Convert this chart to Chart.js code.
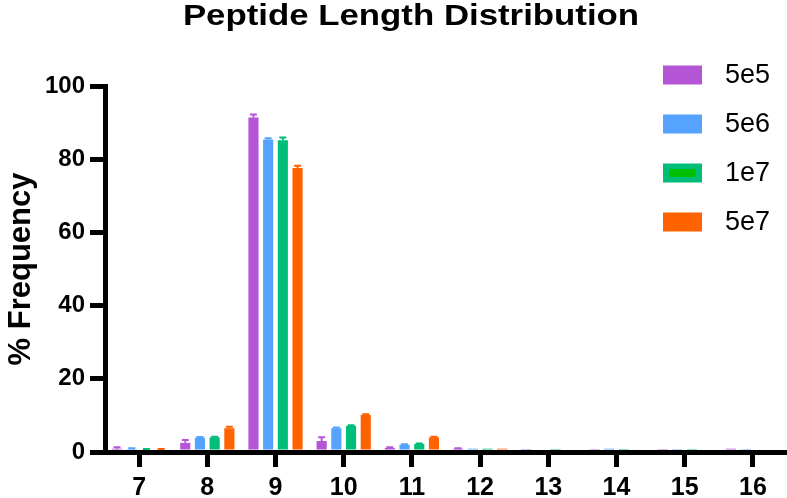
<!DOCTYPE html>
<html><head><meta charset="utf-8">
<script src="https://cdn.jsdelivr.net/npm/chart.js@4/dist/chart.umd.min.js"></script>
<style>html,body{margin:0;padding:0;background:#fff;} #wrap{width:787px;height:498px;}</style>
</head><body><div id="wrap"><canvas id="c" width="787" height="498"></canvas></div>
<script>
const chartTitle = 'Peptide Length Distribution';
const yAxisTitle = '% Frequency';
const categories = ['7','8','9','10','11','12','13','14','15','16'];
const seriesNames = ['5e5','5e6','1e7','5e7'];
const values5e5 = [0.9, 2.5, 91.4, 3.0, 1.1, 0.9, 0.8, 0.8, 0.8, 0.9];
const values5e6 = [0.8, 3.9, 85.4, 6.5, 2.0, 0.9, 0.0, 0.9, 0.8, 0.8];
const values1e7 = [0.7, 4.0, 85.2, 7.1, 2.2, 0.9, 0.8, 0.8, 0.8, 0.0];
const values5e7 = [0.7, 6.5, 77.6, 10.1, 4.0, 0.9, 0.0, 0.7, 0.0, 0.0];
const errors5e5 = [0.4, 0.8, 0.8, 1.0, 0.2, 0.1, 0, 0, 0, 0];
const errors5e6 = [0.2, 0.2, 0.3, 0.2, 0.1, 0, 0, 0, 0, 0];
const errors1e7 = [0.1, 0.2, 0.7, 0.2, 0.1, 0, 0, 0, 0, 0];
const errors5e7 = [0.1, 0.4, 0.6, 0.2, 0.2, 0, 0, 0, 0, 0];
const yTicks = [0, 20, 40, 60, 80, 100];

const colors = ['#B455D6', '#55A3FF', '#00BE78', '#FF6200'];
const legendInner = [null, null, '#00C000', null];
const FONT = "'Liberation Sans', Arial, Helvetica, sans-serif";

const seriesValues = [values5e5, values5e6, values1e7, values5e7];
const seriesErrors = [errors5e5, errors5e6, errors1e7, errors5e7];

const datasets = seriesNames.map((name, i) => ({
  label: name,
  data: seriesValues[i],
  errors: seriesErrors[i],
  backgroundColor: colors[i],
  borderWidth: 0,
  legendInner: legendInner[i],
  categoryPercentage: 0.862,
  barPercentage: 0.69,
  clip: false
}));

const errorBarPlugin = {
  id: 'errorBars',
  afterDatasetsDraw(chart) {
    const ctx = chart.ctx;
    const yScale = chart.scales.y;
    chart.data.datasets.forEach((ds, di) => {
      const meta = chart.getDatasetMeta(di);
      meta.data.forEach((bar, i) => {
        const e = ds.errors[i];
        if (!e) return;
        const yTop = yScale.getPixelForValue(ds.data[i] + e);
        ctx.save();
        ctx.strokeStyle = ds.backgroundColor;
        ctx.lineWidth = 2;
        ctx.beginPath();
        ctx.moveTo(bar.x, bar.y);
        ctx.lineTo(bar.x, yTop);
        ctx.moveTo(bar.x - 3.5, yTop);
        ctx.lineTo(bar.x + 3.5, yTop);
        ctx.stroke();
        ctx.restore();
      });
    });
  }
};

const legendPlugin = {
  id: 'customLegend',
  afterDraw(chart) {
    const ctx = chart.ctx;
    ctx.save();
    chart.data.datasets.forEach((ds, i) => {
      const cy = 75 + i * 49;
      const bx = 663, bw = 39, bh = 19;
      ctx.fillStyle = ds.backgroundColor;
      ctx.fillRect(bx, cy - bh / 2, bw, bh);
      if (ds.legendInner) {
        ctx.fillStyle = ds.legendInner;
        ctx.fillRect(bx + 6, cy - 4, bw - 12, 8);
      }
      ctx.fillStyle = '#000';
      ctx.font = '27px ' + FONT;
      ctx.textBaseline = 'middle';
      ctx.textAlign = 'left';
      ctx.fillText(ds.label, 725, cy + 1);
    });
    ctx.restore();
  }
};

const titlePlugin = {
  id: 'customTitle',
  afterDraw(chart) {
    const ctx = chart.ctx;
    ctx.save();
    ctx.fillStyle = '#000';
    ctx.font = 'bold 30px ' + FONT;
    ctx.textAlign = 'center';
    ctx.textBaseline = 'alphabetic';
    ctx.translate(411, 25);
    ctx.scale(1.16, 1);
    ctx.fillText(chartTitle, 0, 0);
    ctx.restore();
  }
};

new Chart(document.getElementById('c'), {
  type: 'bar',
  data: { labels: categories, datasets },
  options: {
    responsive: false,
    animation: false,
    devicePixelRatio: 1,
    layout: { padding: { top: 86, right: 0, left: 0, bottom: 0 } },
    plugins: {
      legend: { display: false },
      title: { display: false },
      tooltip: { enabled: false }
    },
    scales: {
      x: {
        type: 'category',
        offset: true,
        afterFit(s) { s.height = 46; },
        grid: { offset: false, drawOnChartArea: false, drawTicks: true, tickLength: 15, lineWidth: 5, tickWidth: 5, color: '#000', tickColor: '#000', z: -2 },
        border: { display: true, width: 5, color: '#000', z: -1 },
        ticks: { color: '#000', font: { family: FONT, size: 25, weight: 'bold' }, padding: 6, maxRotation: 0 }
      },
      y: {
        min: 0, max: 100,
        afterFit(s) { s.width = 105; },
        afterBuildTicks(s) { s.ticks = yTicks.map(v => ({ value: v })); },
        grid: { drawOnChartArea: false, drawTicks: true, tickLength: 15, lineWidth: 5, tickWidth: 5, color: '#000', tickColor: '#000', z: -2 },
        border: { display: true, width: 5, color: '#000', z: -1 },
        ticks: { color: '#000', font: { family: FONT, size: 24, weight: 'bold' }, padding: 5 },
        title: { display: true, text: yAxisTitle, color: '#000', font: { family: FONT, size: 31, weight: 'bold' }, padding: { top: 3, bottom: 0 } }
      }
    }
  },
  plugins: [errorBarPlugin, legendPlugin, titlePlugin]
});
</script>
</body></html>
